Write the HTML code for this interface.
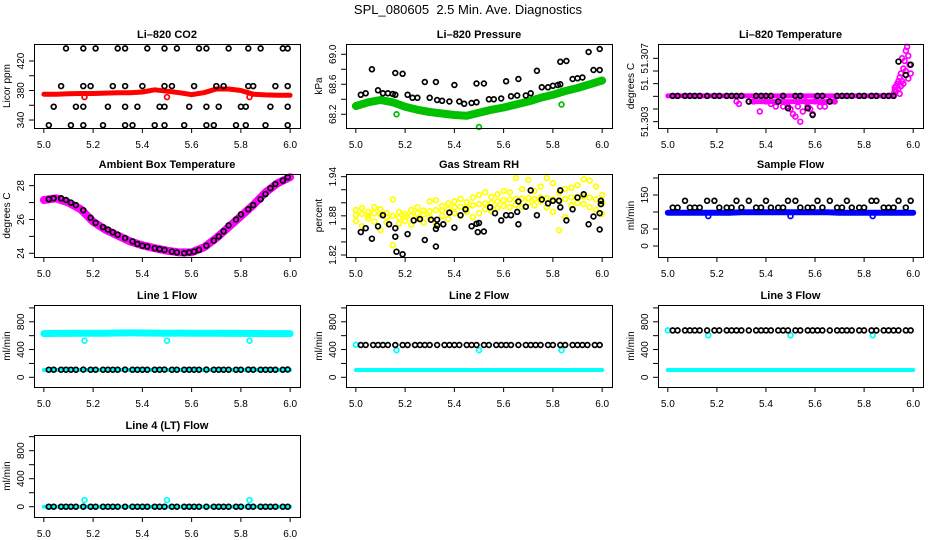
<!DOCTYPE html>
<html><head><meta charset="utf-8"><style>
html,body{margin:0;padding:0;background:#fff;}
svg{display:block;font-family:"Liberation Sans",Arial,sans-serif;}
</style></head><body>
<svg id="chart" width="936" height="540" viewBox="0 0 936 540" xmlns="http://www.w3.org/2000/svg">
<text x="468" y="14" text-anchor="middle" font-size="13" style="white-space:pre">SPL_080605  2.5 Min. Ave. Diagnostics</text>
</svg>
<script>
// ---- shared time axes ----
const xTicks=[5.0,5.2,5.4,5.6,5.8,6.0];
const xTickLabels=["5.0","5.2","5.4","5.6","5.8","6.0"];
const tB=[5.02,5.04,5.07,5.09,5.11,5.13,5.16,5.19,5.21,5.24,5.26,5.28,5.30,5.33,5.36,5.38,5.40,5.42,5.45,5.47,5.49,5.52,5.54,5.57,5.59,5.61,5.63,5.66,5.69,5.71,5.73,5.75,5.78,5.80,5.83,5.85,5.88,5.90,5.92,5.94,5.97,5.99];
const tL=[5.0,5.05,5.1,5.15,5.2,5.25,5.3,5.35,5.4,5.45,5.5,5.55,5.6,5.65,5.7,5.75,5.8,5.85,5.9,5.95,6.0];
const tY=[5.000,5.025,5.050,5.075,5.100,5.125,5.150,5.175,5.200,5.225,5.250,5.275,5.300,5.325,5.350,5.375,5.400,5.425,5.450,5.475,5.500,5.525,5.550,5.575,5.600,5.625,5.650,5.675,5.700,5.725,5.750,5.775,5.800,5.825,5.850,5.875,5.900,5.925,5.950,5.975,6.000];
const outX=[5.165,5.5,5.835];

// ---- CO2 ----
const co2X=[5.09,5.16,5.21,5.30,5.33,5.42,5.49,5.54,5.63,5.66,5.75,5.83,5.88,5.97,5.99,
 5.07,5.16,5.19,5.28,5.33,5.40,5.49,5.52,5.61,5.70,5.73,5.83,5.85,5.94,5.99,
 5.04,5.13,5.16,5.26,5.33,5.38,5.47,5.49,5.59,5.66,5.71,5.80,5.82,5.92,5.99,
 5.02,5.11,5.16,5.24,5.33,5.36,5.45,5.49,5.57,5.66,5.69,5.78,5.82,5.90,5.99];
const co2Y=[437,437,437,437,437,437,437,437,437,437,437,437,437,437,437,
 386,386,386,386,386,386,386,386,386,386,386,386,386,386,386,
 358,358,358,358,358,358,358,358,358,358,358,358,358,358,358,
 333,333,333,333,333,333,333,333,333,333,333,333,333,333,333];
const co2Red=[375,375,375.5,376,376,376.5,377,377,378,381,379,377,374.5,377,382,382,380,375,374,373.5,373.5];
const co2RedOut=[371,371,371];

// ---- Pressure ----
const presX=[5.02,5.04,5.065,5.09,5.11,5.13,5.15,5.16,5.16,5.19,5.21,5.23,5.25,5.28,5.30,5.325,5.33,5.35,5.38,5.40,5.42,5.44,5.47,5.49,5.49,5.52,5.54,5.56,5.59,5.61,5.63,5.655,5.66,5.69,5.71,5.735,5.755,5.78,5.80,5.82,5.83,5.83,5.855,5.88,5.90,5.92,5.945,5.965,5.99,5.99];
const presY=[68.46,68.48,68.80,68.52,68.48,68.48,68.47,68.75,68.46,68.74,68.46,68.42,68.42,68.63,68.42,68.63,68.39,68.38,68.37,68.59,68.37,68.34,68.35,68.61,68.36,68.61,68.40,68.40,68.41,68.64,68.44,68.45,68.67,68.45,68.48,68.78,68.56,68.56,68.58,68.59,68.90,68.60,68.91,68.67,68.68,68.69,69.03,68.79,69.07,68.79];
const presGreen=[68.31,68.36,68.39,68.36,68.30,68.26,68.23,68.21,68.19,68.18,68.22,68.26,68.29,68.33,68.37,68.42,68.46,68.51,68.55,68.60,68.65];
const presGreenOut=[68.2,68.03,68.33];

// ---- Li-820 temperature ----
const tempBlack=[51.30503,51.30503,51.30503,51.30503,51.30503,51.30503,51.30503,51.30503,51.30503,51.30503,51.30503,51.30503,51.30503,51.30458,51.30503,51.30503,51.30503,51.30503,51.30458,51.30503,51.30406,51.30503,51.30503,51.30406,51.30353,51.30503,51.30503,51.30458,51.30503,51.30503,51.30503,51.30503,51.30503,51.30503,51.30503,51.30503,51.30503,51.30503,51.30503,51.30774,51.30669,51.3075];
const tempFlatX=[5.0,5.92];
const tempFlatY=[51.30503,51.30503];
const tempLowX=[5.34,5.68];
const tempLowY=[51.30458,51.30458];
const tempMagX=[5.28,5.29,5.33,5.35,5.375,5.40,5.42,5.44,5.45,5.47,5.49,5.50,5.51,5.52,5.53,5.54,5.55,5.56,5.57,5.58,5.59,5.60,5.62,5.64,5.66,5.68,
 5.92,5.925,5.93,5.935,5.94,5.945,5.95,5.955,5.96,5.965,5.97,5.975,5.98,5.985,5.99,5.94,5.95,5.96,5.93,5.945,5.955,5.97,5.98,5.925];
const tempMagY=[51.3046,51.3044,51.3046,51.3046,51.3038,51.3046,51.3044,51.3042,51.3046,51.3042,51.3042,51.3040,51.3036,51.3034,51.3042,51.3030,51.3038,51.3046,51.3042,51.3040,51.3036,51.3046,51.3042,51.3042,51.3046,51.3046,
 51.3052,51.3055,51.3058,51.3060,51.3062,51.3065,51.3068,51.3062,51.3072,51.3078,51.3086,51.3089,51.3082,51.3075,51.3068,51.3056,51.3058,51.3060,51.3054,51.3052,51.3080,51.3070,51.3064,51.3057];

// ---- Ambient box temperature ----
const ambBlack=[27.2,27.25,27.25,27.15,27.0,26.85,26.55,26.1,25.8,25.55,25.4,25.25,25.1,24.9,24.7,24.55,24.45,24.4,24.3,24.25,24.2,24.1,24.05,24.0,24.05,24.1,24.2,24.45,24.75,25.0,25.3,25.65,26.0,26.3,26.6,26.85,27.2,27.5,27.85,28.1,28.3,28.5];
const ambMag=[27.15,27.25,27.0,26.6,25.87,25.4,25.05,24.7,24.47,24.3,24.15,24.05,24.06,24.35,24.9,25.55,26.2,26.85,27.6,28.15,28.5];

// ---- Gas stream RH ----
const rhX=[5.02,5.04,5.065,5.09,5.11,5.135,5.16,5.16,5.165,5.19,5.21,5.235,5.26,5.28,5.305,5.325,5.325,5.33,5.33,5.355,5.38,5.40,5.425,5.445,5.47,5.49,5.495,5.50,5.52,5.545,5.565,5.59,5.61,5.63,5.655,5.66,5.66,5.69,5.71,5.735,5.755,5.78,5.80,5.825,5.83,5.83,5.855,5.88,5.90,5.925,5.945,5.965,5.99,5.995,5.995,5.99];
const rhY=[1.855,1.861,1.845,1.864,1.881,1.867,1.861,1.848,1.825,1.821,1.852,1.873,1.875,1.843,1.874,1.860,1.833,1.874,1.865,1.867,1.885,1.862,1.881,1.890,1.864,1.868,1.855,1.869,1.856,1.893,1.884,1.873,1.881,1.881,1.886,1.867,1.902,1.894,1.919,1.881,1.905,1.899,1.903,1.903,1.919,1.893,1.873,1.890,1.908,1.913,1.867,1.879,1.884,1.898,1.903,1.859];
const rhYelA=[1.889,1.892,1.886,1.893,1.890,1.884,1.905,1.886,1.883,1.889,1.893,1.888,1.902,1.904,1.895,1.899,1.902,1.906,1.901,1.908,1.912,1.916,1.909,1.913,1.918,1.916,1.938,1.921,1.935,1.918,1.925,1.938,1.930,1.915,1.921,1.923,1.927,1.936,1.934,1.925,1.912];
const rhYelB=[1.872,1.864,1.876,1.871,1.858,1.870,1.835,1.868,1.872,1.866,1.875,1.870,1.878,1.866,1.880,1.875,1.884,1.880,1.886,1.878,1.884,1.890,1.887,1.892,1.895,1.893,1.897,1.894,1.900,1.896,1.902,1.893,1.886,1.858,1.878,1.896,1.900,1.898,1.893,1.889,1.883];
const rhYelC=[1.881,1.883,1.880,1.884,1.882,1.878,1.880,1.877,1.879,1.880,1.884,1.882,1.887,1.889,1.888,1.890,1.893,1.894,1.893,1.896,1.898,1.899,1.900,1.902,1.904,1.905,1.906,1.907,1.907,1.906,1.908,1.907,1.905,1.904,1.906,1.908,1.909,1.910,1.908,1.905,1.900];

// ---- Sample flow ----
const sfBlack=[113,113,133,113,113,113,133,133,113,113,113,133,113,133,113,113,133,113,113,113,133,133,113,113,113,133,113,133,113,113,133,113,113,113,133,133,113,113,113,133,113,133];
const sfBlue=[98,98,98,98,98,98,99,99,99,99,99,99,99,99,98,98,98,98,98,98,98];
const sfBlueOut=[88,88,88];

// ---- Line flows ----
const l1Black=[110,110,110,110,110,110,111,110,110,110,110,110,110,111,110,110,110,110,110,110,111,110,110,110,110,110,110,111,110,110,110,110,110,110,111,110,110,110,110,110,110,112];
const l1CyanHigh=[630,632,633,634,635,636,638,640,638,637,636,637,636,635,634,633,632,631,630,630,630];
const l1CyanLow=[105,105,105,105,105,105,105,105,105,105,105,105,105,105,105,105,105,105,105,105,105];
const l1CyanOut=[527,527,527];
const l2Black=[465,465,465,465,465,465,465,465,465,465,465,465,465,465,465,465,465,465,465,465,465,465,465,465,465,465,465,465,465,465,465,465,465,465,465,465,465,465,465,465,465,465];
const l2CyanLow=[105,105,105,105,105,105,105,105,105,105,105,105,105,105,105,105,105,105,105,105,105];
const l2CyanFirst=[470];
const l2CyanOut=[390,390,390];
const l3Black=[676,676,676,676,676,676,676,676,676,676,676,676,676,676,676,676,676,676,676,676,676,676,676,676,676,676,676,676,676,676,676,676,676,676,676,676,676,676,676,676,676,676];
const l3CyanLow=[105,105,105,105,105,105,105,105,105,105,105,105,105,105,105,105,105,105,105,105,105];
const l3CyanFirst=[676];
const l3CyanOut=[605,605,605];
const l4Black=[0,0,0,0,0,0,0,0,0,0,0,0,0,0,0,0,0,0,0,0,0,0,0,0,0,0,0,0,0,0,0,0,0,0,0,0,0,0,0,0,0,0];
const l4CyanLow=[0,0,0,0,0,0,0,0,0,0,0,0,0,0,0,0,0,0,0,0,0];
const l4CyanOut=[95,95,95];

const flowTicks=[0,200,400,600,800,1000];
const flowLabels=["0","","400","","800",""];

const NS="http://www.w3.org/2000/svg";
const svg=document.getElementById("chart");
function el(tag,parent){const e=document.createElementNS(NS,tag);parent.appendChild(e);return e;}

function drawPanel(p){
  const g=el("g",svg);
  
  
  const sx=v=>p.bx0+(v-4.96)/1.08*(p.bx1-p.bx0);
  const sy=v=>p.by1-(v-p.ylim[0])/(p.ylim[1]-p.ylim[0])*(p.by1-p.by0);
  p.layers.forEach(L=>{
    if(L.type==="line"){
      const pl=el("polyline",g);
      
      
      pl.setAttribute("points",L.xs.map((x,i)=>sx(x).toFixed(1)+","+sy(L.ys[i]).toFixed(1)).join(" "));
      pl.setAttribute("fill","none");pl.setAttribute("stroke",L.color);
      pl.setAttribute("stroke-width",L.w);pl.setAttribute("stroke-linejoin","round");pl.setAttribute("stroke-linecap","round");
    } else {
      L.ys.forEach((y,i)=>{
        const c=el("circle",g);
        
        
        c.setAttribute("cx",sx(L.xs[i]).toFixed(1));c.setAttribute("cy",sy(y).toFixed(1));
        c.setAttribute("r",2.4);c.setAttribute("fill","none");c.setAttribute("stroke",L.color);c.setAttribute("stroke-width",1.7);
      });
    }
  });
  const r=el("rect",g);
  
  
  r.setAttribute("x",p.bx0+0.5);r.setAttribute("y",p.by0+0.5);r.setAttribute("width",p.bx1-p.bx0);r.setAttribute("height",p.by1-p.by0);
  r.setAttribute("fill","none");r.setAttribute("stroke","#000");r.setAttribute("stroke-width",1);
  const t=el("text",g);
  
  
  t.setAttribute("x",(p.bx0+p.bx1)/2);t.setAttribute("y",p.by0-6);t.setAttribute("text-anchor","middle");
  t.setAttribute("font-size","11");t.setAttribute("font-weight","bold");t.textContent=p.title;
  xTicks.forEach((v,i)=>{
    const x=sx(v);
    const l=el("line",g);
    
    
    l.setAttribute("x1",x);l.setAttribute("x2",x);l.setAttribute("y1",p.by1);l.setAttribute("y2",p.by1+5);l.setAttribute("stroke","#000");
    const tx=el("text",g);
    
    
    tx.setAttribute("x",x);tx.setAttribute("y",p.by1+20);tx.setAttribute("text-anchor","middle");tx.setAttribute("font-size","10");
    tx.textContent=xTickLabels[i];
  });
  p.yTicks.forEach((v,i)=>{
    const y=sy(v);
    const l=el("line",g);
    
    
    l.setAttribute("x1",p.bx0-5);l.setAttribute("x2",p.bx0);l.setAttribute("y1",y);l.setAttribute("y2",y);l.setAttribute("stroke","#000");
    if(p.yLabels[i]){
      const tx=el("text",g);
      
      
      const lx=p.bx0-10;
      tx.setAttribute("x",lx);tx.setAttribute("y",y);tx.setAttribute("text-anchor","middle");tx.setAttribute("font-size","10");
      tx.setAttribute("transform","rotate(-90 "+lx+" "+y+")");tx.textContent=p.yLabels[i];
    }
  });
  const yl=el("text",g);
  
  
  const yx=p.bx0-24, yy=(p.by0+p.by1)/2;
  yl.setAttribute("x",yx);yl.setAttribute("y",yy);yl.setAttribute("text-anchor","middle");yl.setAttribute("font-size","10");
  yl.setAttribute("transform","rotate(-90 "+yx+" "+yy+")");yl.textContent=p.ylab;
}

const C1=[34,300],C2=[346,612],C3=[658,923];
const R1=[44,128],R2=[174,257],R3=[305,387],R4=[435,517];

drawPanel({name:"panel-co2",title:"Li–820 CO2",ylab:"Licor ppm",bx0:C1[0],bx1:C1[1],by0:R1[0],by1:R1[1],ylim:[329.2,443],
  yTicks:[340,360,380,400,420],yLabels:["340","","380","","420"],
  layers:[{type:"line",name:"co2-series-line",xs:tL,ys:co2Red,color:"#ff0000",w:5},
          {type:"pts",name:"co2-outlier",xs:outX,ys:co2RedOut,color:"#ff0000"},
          {type:"pts",name:"co2-black-point",xs:co2X,ys:co2Y,color:"#000"}]});
drawPanel({name:"panel-pressure",title:"Li–820 Pressure",ylab:"kPa",bx0:C2[0],bx1:C2[1],by0:R1[0],by1:R1[1],ylim:[68.017,69.137],
  yTicks:[68.2,68.4,68.6,68.8,69.0],yLabels:["68.2","","68.6","","69.0"],
  layers:[{type:"line",name:"pressure-series-line",xs:tL,ys:presGreen,color:"#00c000",w:8},
          {type:"pts",name:"pressure-outlier",xs:outX,ys:presGreenOut,color:"#00c000"},
          {type:"pts",name:"pressure-black-point",xs:presX,ys:presY,color:"#000"}]});
drawPanel({name:"panel-li820-temperature",title:"Li–820 Temperature",ylab:"degrees C",bx0:C3[0],bx1:C3[1],by0:R1[0],by1:R1[1],ylim:[51.3025,51.30913],
  yTicks:[51.303,51.304,51.305,51.306,51.307,51.308],yLabels:["51.303","","","51.","","51.307"],
  layers:[{type:"line",name:"temp-flat-line",xs:tempFlatX,ys:tempFlatY,color:"#ff00ff",w:5},
          {type:"line",name:"temp-low-line",xs:tempLowX,ys:tempLowY,color:"#ff00ff",w:5},
          {type:"pts",name:"temp-magenta-point",xs:tempMagX,ys:tempMagY,color:"#ff00ff"},
          {type:"pts",name:"temp-black-point",xs:tB,ys:tempBlack,color:"#000"}]});
drawPanel({name:"panel-ambient-temperature",title:"Ambient Box Temperature",ylab:"degrees C",bx0:C1[0],bx1:C1[1],by0:R2[0],by1:R2[1],ylim:[23.78,28.69],
  yTicks:[24,25,26,27,28],yLabels:["24","","26","","28"],
  layers:[{type:"line",name:"ambient-series-line",xs:tL,ys:ambMag,color:"#ff00ff",w:8},
          {type:"pts",name:"ambient-black-point",xs:tB,ys:ambBlack,color:"#000"}]});
drawPanel({name:"panel-gas-rh",title:"Gas Stream RH",ylab:"percent",bx0:C2[0],bx1:C2[1],by0:R2[0],by1:R2[1],ylim:[1.8169,1.9441],
  yTicks:[1.82,1.84,1.86,1.88,1.90,1.92,1.94],yLabels:["1.82","","","1.88","","","1.94"],
  layers:[{type:"pts",name:"rh-yellow-point",xs:tY,ys:rhYelA,color:"#ffff00"},
          {type:"pts",name:"rh-yellow-point",xs:tY,ys:rhYelB,color:"#ffff00"},
          {type:"pts",name:"rh-yellow-point",xs:tY,ys:rhYelC,color:"#ffff00"},
          {type:"pts",name:"rh-black-point",xs:rhX,ys:rhY,color:"#000"}]});
drawPanel({name:"panel-sample-flow",title:"Sample Flow",ylab:"ml/min",bx0:C3[0],bx1:C3[1],by0:R2[0],by1:R2[1],ylim:[-32.4,211.8],
  yTicks:[0,50,100,150,200],yLabels:["0","50","","150",""],
  layers:[{type:"line",name:"sample-flow-line",xs:tL,ys:sfBlue,color:"#0000ff",w:6},
          {type:"pts",name:"sample-flow-outlier",xs:outX,ys:sfBlueOut,color:"#0000ff"},
          {type:"pts",name:"sample-flow-black-point",xs:tB,ys:sfBlack,color:"#000"}]});
drawPanel({name:"panel-line1-flow",title:"Line 1 Flow",ylab:"ml/min",bx0:C1[0],bx1:C1[1],by0:R3[0],by1:R3[1],ylim:[-139.6,1041.8],
  yTicks:flowTicks,yLabels:flowLabels,
  layers:[{type:"line",name:"line1-cyan-high",xs:tL,ys:l1CyanHigh,color:"#00ffff",w:7},
          {type:"pts",name:"line1-cyan-outlier",xs:outX,ys:l1CyanOut,color:"#00ffff"},
          {type:"line",name:"line1-cyan-low",xs:tL,ys:l1CyanLow,color:"#00ffff",w:4},
          {type:"pts",name:"line1-black-point",xs:tB,ys:l1Black,color:"#000"}]});
drawPanel({name:"panel-line2-flow",title:"Line 2 Flow",ylab:"ml/min",bx0:C2[0],bx1:C2[1],by0:R3[0],by1:R3[1],ylim:[-139.6,1041.8],
  yTicks:flowTicks,yLabels:flowLabels,
  layers:[{type:"line",name:"line2-cyan-low",xs:tL,ys:l2CyanLow,color:"#00ffff",w:4},
          {type:"pts",name:"line2-cyan-first",xs:[5.0],ys:l2CyanFirst,color:"#00ffff"},
          {type:"pts",name:"line2-cyan-outlier",xs:outX,ys:l2CyanOut,color:"#00ffff"},
          {type:"pts",name:"line2-black-point",xs:tB,ys:l2Black,color:"#000"}]});
drawPanel({name:"panel-line3-flow",title:"Line 3 Flow",ylab:"ml/min",bx0:C3[0],bx1:C3[1],by0:R3[0],by1:R3[1],ylim:[-139.6,1041.8],
  yTicks:flowTicks,yLabels:flowLabels,
  layers:[{type:"line",name:"line3-cyan-low",xs:tL,ys:l3CyanLow,color:"#00ffff",w:4},
          {type:"pts",name:"line3-cyan-first",xs:[5.0],ys:l3CyanFirst,color:"#00ffff"},
          {type:"pts",name:"line3-cyan-outlier",xs:outX,ys:l3CyanOut,color:"#00ffff"},
          {type:"pts",name:"line3-black-point",xs:tB,ys:l3Black,color:"#000"}]});
drawPanel({name:"panel-line4-flow",title:"Line 4 (LT) Flow",ylab:"ml/min",bx0:C1[0],bx1:C1[1],by0:R4[0],by1:R4[1],ylim:[-147,1024],
  yTicks:flowTicks,yLabels:flowLabels,
  layers:[{type:"line",name:"line4-cyan-low",xs:tL,ys:l4CyanLow,color:"#00ffff",w:4},
          {type:"pts",name:"line4-cyan-outlier",xs:outX,ys:l4CyanOut,color:"#00ffff"},
          {type:"pts",name:"line4-black-point",xs:tB,ys:l4Black,color:"#000"}]});
</script>
</body></html>
